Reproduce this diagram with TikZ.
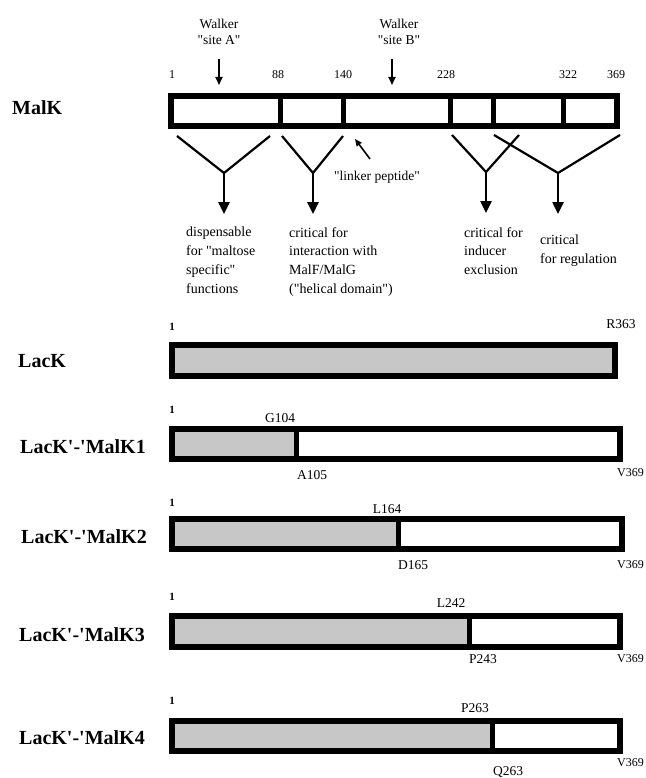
\documentclass[tikz,border=0pt]{standalone}
\usepackage{fontspec}
\setmainfont{Liberation Serif}[Ligatures=TeXOff]
\usetikzlibrary{arrows.meta}
\tikzset{
 seg/.style={line width=6pt, line join=miter},
 divl/.style={line width=5pt},
 lab/.style={font=\bfseries\fontsize{20}{24}\selectfont, anchor=west, inner sep=0pt},
 posn/.style={font=\fontsize{12}{14}\selectfont, inner sep=0pt},
 res/.style={font=\fontsize{13.5}{16}\selectfont, inner sep=0pt},
 endres/.style={font=\fontsize{12}{14}\selectfont, inner sep=0pt, anchor=east},
 one/.style={font=\bfseries\fontsize{11}{13}\selectfont, inner sep=0pt},
 desc/.style={font=\fontsize{14}{18.7}\selectfont, align=left, anchor=north west, inner sep=0pt},
 walk/.style={font=\fontsize{13.5}{16}\selectfont, align=center, inner sep=0pt},
 yline/.style={line width=2.2pt, line join=round},
 bigarrow/.style={line width=2.5pt, -{Triangle[length=12pt,width=11pt]}},
 smallarrow/.style={line width=1.8pt, -{Triangle[length=8pt,width=7pt]}},
 lac/.style={fill=black!22}
}
\begin{document}
\begin{tikzpicture}[x=1pt,y=-1pt]
\useasboundingbox[fill=white] (0,0) rectangle (645,778);

% ---------------- MalK ----------------
\node[lab] (malk) at (12,108) {MalK};
\draw[seg] (171,96) rectangle (617,126);
\foreach \xx in {280,343,450,493,563} \draw[divl] (\xx,96) -- (\xx,126);

\node[posn] (n1) at (172,75) {1};
\node[posn] (n88) at (278,75) {88};
\node[posn] (n140) at (343,75) {140};
\node[posn] (n228) at (446,75) {228};
\node[posn] (n322) at (568,75) {322};
\node[posn] (n369) at (616,75) {369};

\node[walk] (wa) at (219,32) {Walker\\"site A"};
\node[walk] (wb) at (399,32) {Walker\\"site B"};
\coordinate (wat) at (219,59); \coordinate (wah) at (219,85);
\coordinate (wbt) at (392,59); \coordinate (wbh) at (392,85);
\draw[smallarrow] (wat) -- (wah);
\draw[smallarrow] (wbt) -- (wbh);

% Y connectors
\coordinate (y1a) at (177,136); \coordinate (y1b) at (270,136); \coordinate (y1j) at (224,173); \coordinate (y1t) at (224,214);
\coordinate (y2a) at (282,136); \coordinate (y2b) at (343,136); \coordinate (y2j) at (313,173); \coordinate (y2t) at (313,214);
\coordinate (y3a) at (452,135); \coordinate (y3b) at (519,135); \coordinate (y3j) at (486,172); \coordinate (y3t) at (486,213);
\coordinate (y4a) at (494,135); \coordinate (y4b) at (620,135); \coordinate (y4j) at (558,173); \coordinate (y4t) at (558,214);
\foreach \k in {1,2,3,4}{
  \draw[yline] (y\k a) -- (y\k j) -- (y\k b);
  \draw[bigarrow] (y\k j) -- (y\k t);
}

\node[res, anchor=west] (link) at (334,177) {"linker peptide"};
\coordinate (lkt) at (370,159); \coordinate (lkh) at (355,139);
\draw[line width=1.6pt, -{Triangle[length=7pt,width=6pt]}] (lkt) -- (lkh);

\node[desc] (d1) at (186,227) {dispensable\\for "maltose\\specific"\\functions};
\node[desc] (d2) at (289,227) {critical for\\interaction with\\MalF/MalG\\("helical domain")};
\node[desc] (d3) at (464,227) {critical for\\inducer\\exclusion};
\node[desc] (d4) at (540,235) {critical\\for regulation};

% ---------------- LacK ----------------
\node[lab] (lack) at (18,361) {LacK};
\node[one] (l1) at (172,327) {1};
\node[res] (r363) at (621,324) {R363};
\fill[lac] (172,345) rectangle (615,376);
\draw[seg] (172,345) rectangle (615,376);

% ---------------- LacK'-'MalK1 ----------------
\node[lab] (m1) at (20,447) {LacK'-'MalK1};
\node[one] (m1one) at (172,410) {1};
\fill[lac] (172,429) rectangle (296,459);
\draw[seg] (172,429) rectangle (620,459);
\draw[divl] (296,429) -- (296,459);
\node[res] (g104) at (280,418) {G104};
\node[res] (a105) at (312,475) {A105};
\node[endres] (v1) at (644,473) {V369};

% ---------------- LacK'-'MalK2 ----------------
\node[lab] (m2) at (21,537) {LacK'-'MalK2};
\node[one] (m2one) at (172,503) {1};
\fill[lac] (172,519) rectangle (398,549);
\draw[seg] (172,519) rectangle (622,549);
\draw[divl] (398,519) -- (398,549);
\node[res] (l164) at (387,509) {L164};
\node[res] (d165) at (413,565) {D165};
\node[endres] (v2) at (644,565) {V369};

% ---------------- LacK'-'MalK3 ----------------
\node[lab] (m3) at (19,635) {LacK'-'MalK3};
\node[one] (m3one) at (172,597) {1};
\fill[lac] (172,616) rectangle (469,647);
\draw[seg] (172,616) rectangle (620,647);
\draw[divl] (469,616) -- (469,647);
\node[res] (l242) at (451,603) {L242};
\node[res] (p243) at (483,659) {P243};
\node[endres] (v3) at (644,659) {V369};

% ---------------- LacK'-'MalK4 ----------------
\node[lab] (m4) at (19,738) {LacK'-'MalK4};
\node[one] (m4one) at (172,701) {1};
\fill[lac] (172,721) rectangle (492,751);
\draw[seg] (172,721) rectangle (620,751);
\draw[divl] (492,721) -- (492,751);
\node[res] (p263) at (475,708) {P263};
\node[res] (q263) at (508,772) {Q263};
\node[endres] (v4) at (644,763) {V369};
\end{tikzpicture}
\end{document}
